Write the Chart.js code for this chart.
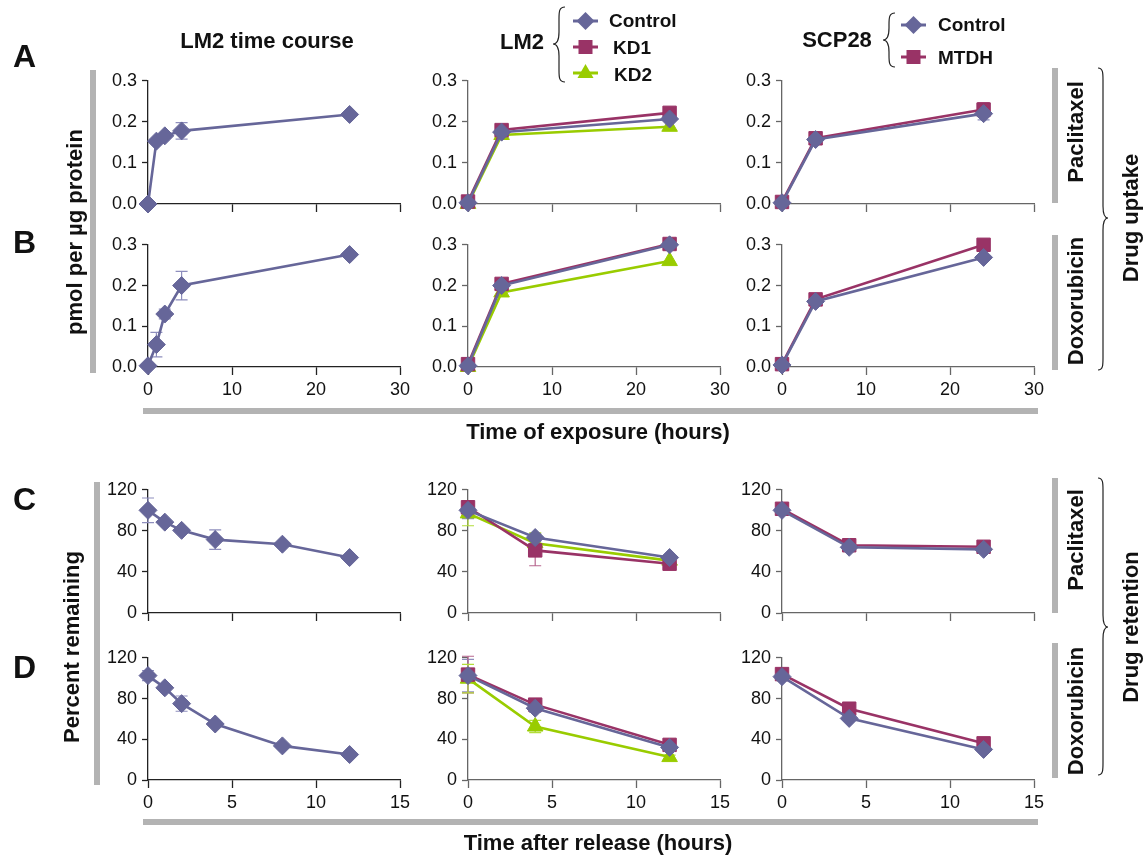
<!DOCTYPE html>
<html>
<head>
<meta charset="utf-8">
<script src="https://cdn.jsdelivr.net/npm/chart.js@4"></script>
<style>
  body { margin: 0; background: #fff; width: 1144px; height: 855px; position: relative; overflow: hidden; font-family: "Liberation Sans", Arial, sans-serif; }
  canvas { position: absolute; }
  svg { position: absolute; left: 0; top: 0; }
  svg text { font-family: "Liberation Sans", Arial, sans-serif; font-weight: bold; fill: #111; }
</style>
</head>
<body>
<svg width="1144" height="855" id="deco">
  <!-- gray bars -->
  <g fill="#b3b3b3">
    <rect x="90" y="70" width="6" height="303"/>
    <rect x="94" y="482" width="6" height="303"/>
    <rect x="143" y="408" width="895" height="6"/>
    <rect x="143" y="819" width="895" height="6"/>
    <rect x="1052" y="68" width="6" height="135"/>
    <rect x="1052" y="235" width="6" height="135"/>
    <rect x="1052" y="478" width="6" height="135"/>
    <rect x="1052" y="643" width="6" height="135"/>
  </g>
  <g fill="none" stroke="#222" stroke-width="1.2" id="braces"></g>

  <text x="13" y="67" font-size="32">A</text>
  <text x="13" y="253" font-size="32">B</text>
  <text x="13" y="510" font-size="32">C</text>
  <text x="13" y="678" font-size="32">D</text>

  <text x="267" y="48" font-size="22" text-anchor="middle">LM2 time course</text>
  <text x="522" y="49" font-size="22" text-anchor="middle">LM2</text>
  <text x="837" y="47" font-size="22" text-anchor="middle">SCP28</text>

  <g id="legendGlyphs"></g>
  <text x="609" y="27" font-size="19">Control</text>
  <text x="613" y="54" font-size="19">KD1</text>
  <text x="614" y="81" font-size="19">KD2</text>
  <text x="938" y="31" font-size="19">Control</text>
  <text x="938" y="64" font-size="19">MTDH</text>

  <text transform="translate(74,232) rotate(-90)" dy="0.35em" font-size="22" text-anchor="middle">pmol per µg protein</text>
  <text transform="translate(71,647) rotate(-90)" dy="0.35em" font-size="22" text-anchor="middle">Percent remaining</text>

  <text transform="translate(1075,132) rotate(-90)" dy="0.35em" font-size="22" text-anchor="middle">Paclitaxel</text>
  <text transform="translate(1075,301) rotate(-90)" dy="0.35em" font-size="22" text-anchor="middle">Doxorubicin</text>
  <text transform="translate(1075,540) rotate(-90)" dy="0.35em" font-size="22" text-anchor="middle">Paclitaxel</text>
  <text transform="translate(1075,711) rotate(-90)" dy="0.35em" font-size="22" text-anchor="middle">Doxorubicin</text>
  <text transform="translate(1130,218) rotate(-90)" dy="0.35em" font-size="22" text-anchor="middle">Drug uptake</text>
  <text transform="translate(1130,627) rotate(-90)" dy="0.35em" font-size="22" text-anchor="middle">Drug retention</text>

  <text x="598" y="439" font-size="22" text-anchor="middle">Time of exposure (hours)</text>
  <text x="598" y="850" font-size="22" text-anchor="middle">Time after release (hours)</text>
</svg>

<script>
// x values
const uptakeHoursCourse = [0, 1, 2, 4, 24];
const uptakeHours = [0, 4, 24];
const releaseHoursCourse = [0, 1, 2, 4, 8, 12];
const releaseHours = [0, 4, 12];

// A - paclitaxel uptake, pmol per ug protein
const paclUptakeCourse = [0.0, 0.153, 0.166, 0.178, 0.218];
const paclUptakeCourseErr = [0, 0.004, 0.005, 0.02, 0.004];
const paclUptakeLM2Control = [0.003, 0.175, 0.207];
const paclUptakeLM2KD1 = [0.006, 0.18, 0.222];
const paclUptakeLM2KD2 = [0.0, 0.168, 0.188];
const paclUptakeSCPControl = [0.003, 0.157, 0.22];
const paclUptakeSCPControlErr = [0, 0.005, 0.015];
const paclUptakeSCPMTDH = [0.005, 0.16, 0.23];
const paclUptakeSCPMTDHErr = [0, 0.005, 0.017];

// B - doxorubicin uptake
const doxUptakeCourse = [0.003, 0.055, 0.13, 0.2, 0.276];
const doxUptakeCourseErr = [0, 0.03, 0.012, 0.035, 0];
const doxUptakeLM2Control = [0.003, 0.2, 0.3];
const doxUptakeLM2ControlErr = [0, 0.004, 0.01];
const doxUptakeLM2KD1 = [0.007, 0.204, 0.302];
const doxUptakeLM2KD1Err = [0, 0.004, 0.012];
const doxUptakeLM2KD2 = [0.0, 0.183, 0.26];
const doxUptakeSCPControl = [0.005, 0.161, 0.269];
const doxUptakeSCPMTDH = [0.007, 0.166, 0.3];

// C - paclitaxel retention, percent remaining
const paclRetainCourse = [100, 88.5, 80.5, 71.5, 67, 54];
const paclRetainCourseErr = [12, 2, 2, 9.5, 1.5, 1.5];
const paclRetainLM2Control = [100, 73.5, 54];
const paclRetainLM2ControlErr = [8, 4, 2];
const paclRetainLM2KD1 = [103, 61, 48];
const paclRetainLM2KD1Err = [5, 15, 2];
const paclRetainLM2KD2 = [97, 68, 51];
const paclRetainLM2KD2Err = [12, 10, 2];
const paclRetainSCPControl = [100, 64, 62];
const paclRetainSCPMTDH = [101.5, 66, 64.5];

// D - doxorubicin retention
const doxRetainCourse = [102.5, 90.5, 75, 55, 33.5, 25];
const doxRetainCourseErr = [5, 2, 7.5, 2, 2, 1.5];
const doxRetainLM2Control = [102.5, 70.5, 32];
const doxRetainLM2ControlErr = [16, 4, 2];
const doxRetainLM2KD1 = [103.5, 74, 34.5];
const doxRetainLM2KD1Err = [18, 3, 2];
const doxRetainLM2KD2 = [99.5, 52.5, 22.5];
const doxRetainLM2KD2Err = [14, 6, 2];
const doxRetainSCPControl = [101.5, 60.5, 30];
const doxRetainSCPMTDH = [104, 70, 36];

const styles = {
  control: { color: '#666699', err: '#8e8ebd', pointStyle: 'rectRot', radius: 9 },
  kd1: { color: '#993366', err: '#b8678f', pointStyle: 'rect', radius: 9.5 },
  kd2: { color: '#99cc00', err: '#b3dd3a', pointStyle: 'triangle', radius: 9 }
};

const errorBars = {
  id: 'errorBars',
  beforeDatasetsDraw(chart) {
    const ctx = chart.ctx;
    const xs = chart.scales.x, ys = chart.scales.y;
    chart.data.datasets.forEach(ds => {
      if (!ds.errors) return;
      ctx.save();
      ctx.strokeStyle = ds.errColor;
      ctx.lineWidth = 1.2;
      ds.data.forEach((p, i) => {
        const e = ds.errors[i];
        if (!e) return;
        const px = xs.getPixelForValue(p.x);
        const top = ys.getPixelForValue(p.y + e);
        const bot = ys.getPixelForValue(p.y - e);
        ctx.beginPath();
        ctx.moveTo(px, top); ctx.lineTo(px, bot);
        ctx.moveTo(px - 6, top); ctx.lineTo(px + 6, top);
        ctx.moveTo(px - 6, bot); ctx.lineTo(px + 6, bot);
        ctx.stroke();
      });
      ctx.restore();
    });
  }
};

function series(kind, xs, ys, errs) {
  const s = styles[kind];
  return {
    data: xs.map((x, i) => ({ x: x, y: ys[i] })),
    errors: errs || null,
    errColor: s.err,
    borderColor: s.color,
    backgroundColor: s.color,
    borderWidth: 2.6,
    pointStyle: s.pointStyle,
    pointRadius: s.radius,
    pointBorderWidth: 1,
    pointBorderColor: s.color,
    tension: 0,
    clip: false
  };
}

const cols = [148, 468, 782];
const rows = [
  { top: 80, h: 124, yMax: 0.3, yStep: 0.1, dec: 1, xMax: 30, xStep: 10, labels: false },
  { top: 244, h: 123, yMax: 0.3, yStep: 0.1, dec: 1, xMax: 30, xStep: 10, labels: true },
  { top: 489, h: 124, yMax: 120, yStep: 40, dec: 0, xMax: 15, xStep: 5, labels: false },
  { top: 657, h: 123, yMax: 120, yStep: 40, dec: 0, xMax: 15, xStep: 5, labels: true }
];

function panel(r, c, datasets) {
  const row = rows[r];
  const padL = 60, padR = 25, padT = 15, padB = 35;
  const W = padL + 252 + padR, H = padT + row.h + padB;
  const cv = document.createElement('canvas');
  cv.width = W; cv.height = H;
  cv.style.left = (cols[c] - padL) + 'px';
  cv.style.top = (row.top - padT) + 'px';
  cv.style.width = W + 'px'; cv.style.height = H + 'px';
  document.body.insertBefore(cv, document.getElementById('deco'));
  const axisColor = c === 0 ? '#222' : '#666';
  const font = { family: '"Liberation Sans", Arial, sans-serif', size: 18 };
  new Chart(cv, {
    type: 'line',
    data: { datasets: datasets },
    options: {
      responsive: false,
      animation: false,
      layout: { padding: { left: 0, right: padR, top: padT, bottom: 0 } },
      plugins: { legend: { display: false }, tooltip: { enabled: false } },
      scales: {
        x: {
          type: 'linear', min: 0, max: row.xMax,
          ticks: { stepSize: row.xStep, font: font, color: row.labels ? '#111' : 'rgba(0,0,0,0)', padding: 4, maxRotation: 0 },
          grid: { drawOnChartArea: false, drawTicks: true, tickLength: 8, tickColor: axisColor, tickWidth: 1.3 },
          border: { color: axisColor, width: 1.3 },
          afterFit: s => { s.height = padB; }
        },
        y: {
          min: 0, max: row.yMax,
          ticks: { stepSize: row.yStep, font: font, color: '#111', padding: 5,
                   callback: v => Number(v).toFixed(row.dec) },
          grid: { drawOnChartArea: false, drawTicks: true, tickLength: 6, tickColor: axisColor, tickWidth: 1.3 },
          border: { color: axisColor, width: 1.3 },
          afterFit: s => { s.width = padL; }
        }
      }
    },
    plugins: [errorBars]
  });
}

// Row A
panel(0, 0, [series('control', uptakeHoursCourse, paclUptakeCourse, paclUptakeCourseErr)]);
panel(0, 1, [series('control', uptakeHours, paclUptakeLM2Control),
             series('kd1', uptakeHours, paclUptakeLM2KD1),
             series('kd2', uptakeHours, paclUptakeLM2KD2)]);
panel(0, 2, [series('control', uptakeHours, paclUptakeSCPControl, paclUptakeSCPControlErr),
             series('kd1', uptakeHours, paclUptakeSCPMTDH, paclUptakeSCPMTDHErr)]);
// Row B
panel(1, 0, [series('control', uptakeHoursCourse, doxUptakeCourse, doxUptakeCourseErr)]);
panel(1, 1, [series('control', uptakeHours, doxUptakeLM2Control, doxUptakeLM2ControlErr),
             series('kd1', uptakeHours, doxUptakeLM2KD1, doxUptakeLM2KD1Err),
             series('kd2', uptakeHours, doxUptakeLM2KD2)]);
panel(1, 2, [series('control', uptakeHours, doxUptakeSCPControl),
             series('kd1', uptakeHours, doxUptakeSCPMTDH)]);
// Row C
panel(2, 0, [series('control', releaseHoursCourse, paclRetainCourse, paclRetainCourseErr)]);
panel(2, 1, [series('control', releaseHours, paclRetainLM2Control, paclRetainLM2ControlErr),
             series('kd1', releaseHours, paclRetainLM2KD1, paclRetainLM2KD1Err),
             series('kd2', releaseHours, paclRetainLM2KD2, paclRetainLM2KD2Err)]);
panel(2, 2, [series('control', releaseHours, paclRetainSCPControl),
             series('kd1', releaseHours, paclRetainSCPMTDH)]);
// Row D
panel(3, 0, [series('control', releaseHoursCourse, doxRetainCourse, doxRetainCourseErr)]);
panel(3, 1, [series('control', releaseHours, doxRetainLM2Control, doxRetainLM2ControlErr),
             series('kd1', releaseHours, doxRetainLM2KD1, doxRetainLM2KD1Err),
             series('kd2', releaseHours, doxRetainLM2KD2, doxRetainLM2KD2Err)]);
panel(3, 2, [series('control', releaseHours, doxRetainSCPControl),
             series('kd1', releaseHours, doxRetainSCPMTDH)]);

// braces and legend glyphs
const NS = 'http://www.w3.org/2000/svg';
function brace(x0, y0, y1, ym, h) {
  const d = `M${x0},${y0} C${x0 + h},${y0} ${x0 + h},${y0 + 5} ${x0 + h},${y0 + 12} L${x0 + h},${ym - 12} ` +
            `C${x0 + h},${ym - 4} ${x0 + h * 1.3},${ym} ${x0 + 2 * h},${ym} ` +
            `C${x0 + h * 1.3},${ym} ${x0 + h},${ym + 4} ${x0 + h},${ym + 12} L${x0 + h},${y1 - 12} ` +
            `C${x0 + h},${y1 - 5} ${x0 + h},${y1} ${x0},${y1}`;
  const p = document.createElementNS(NS, 'path');
  p.setAttribute('d', d);
  document.getElementById('braces').appendChild(p);
}
brace(1098, 68, 370, 218, 5);
brace(1098, 478, 775, 627, 5);
brace(565, 7, 82, 44, -6);
brace(895, 13, 67, 40, -6);

function glyph(kind, x1, x2, cy) {
  const s = styles[kind];
  const g = document.getElementById('legendGlyphs');
  const ln = document.createElementNS(NS, 'line');
  ln.setAttribute('x1', x1); ln.setAttribute('x2', x2);
  ln.setAttribute('y1', cy); ln.setAttribute('y2', cy);
  ln.setAttribute('stroke', s.color); ln.setAttribute('stroke-width', 3);
  g.appendChild(ln);
  const cx = (x1 + x2) / 2;
  let shape;
  if (kind === 'control') {
    shape = document.createElementNS(NS, 'polygon');
    shape.setAttribute('points', `${cx},${cy - 9} ${cx + 9},${cy} ${cx},${cy + 9} ${cx - 9},${cy}`);
  } else if (kind === 'kd1') {
    shape = document.createElementNS(NS, 'rect');
    shape.setAttribute('x', cx - 7); shape.setAttribute('y', cy - 7);
    shape.setAttribute('width', 14); shape.setAttribute('height', 14);
  } else {
    shape = document.createElementNS(NS, 'polygon');
    shape.setAttribute('points', `${cx},${cy - 9} ${cx + 8},${cy + 5} ${cx - 8},${cy + 5}`);
  }
  shape.setAttribute('fill', s.color);
  g.appendChild(shape);
}
glyph('control', 573, 598, 21);
glyph('kd1', 573, 598, 47);
glyph('kd2', 573, 598, 73);
glyph('control', 901, 926, 25);
glyph('kd1', 901, 926, 57);
</script>
</body>
</html>
